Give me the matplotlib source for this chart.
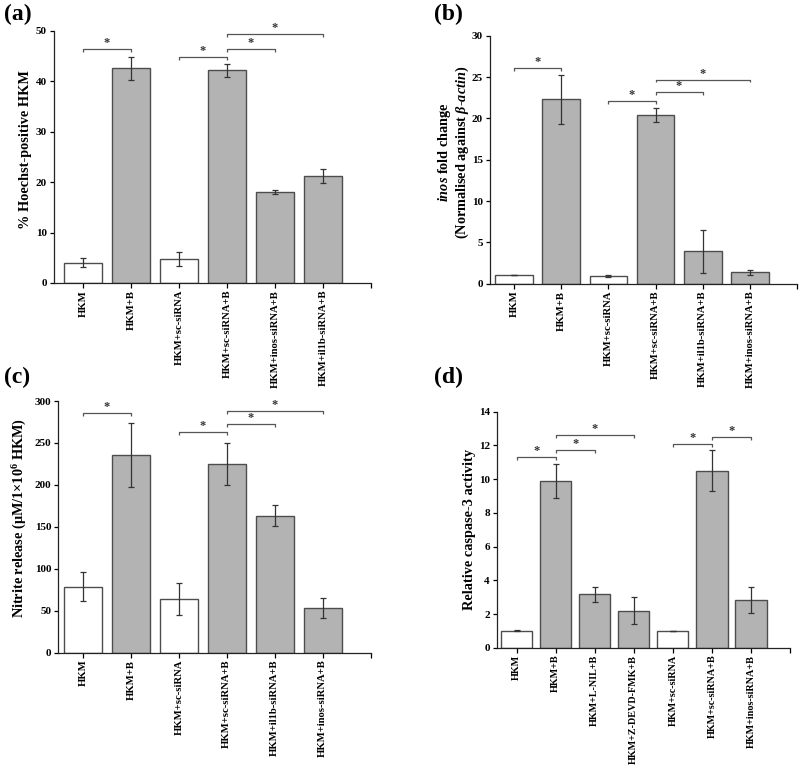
import numpy as np
import matplotlib
matplotlib.use("Agg")
import matplotlib.pyplot as plt

plt.rcParams['font.family'] = ['Liberation Serif', 'DejaVu Serif']
plt.rcParams['font.weight'] = 'bold'
plt.rcParams['mathtext.fontset'] = 'custom'
plt.rcParams['mathtext.rm'] = 'Liberation Serif:bold'
plt.rcParams['mathtext.it'] = 'Liberation Serif:bold:italic'
plt.rcParams['mathtext.bf'] = 'Liberation Serif:bold'

# (a) Hoechst
a_labels = ['HKM', 'HKM+B', 'HKM+sc-siRNA', 'HKM+sc-siRNA+B', 'HKM+inos-siRNA+B', 'HKM+il1b-siRNA+B']
a_values = [4.0, 42.6, 4.8, 42.2, 18.0, 21.2]
a_errors = [0.9, 2.3, 1.4, 1.3, 0.4, 1.4]
a_white = [True, False, True, False, False, False]
a_pairs = [(1, 2), (3, 4), (4, 5), (4, 6)]
a_heights = [46.4, 44.8, 46.5, 49.4]

# (b) inos fold change
b_labels = ['HKM', 'HKM+B', 'HKM+sc-siRNA', 'HKM+sc-siRNA+B', 'HKM+il1b-siRNA+B', 'HKM+inos-siRNA+B']
b_values = [1.0, 22.3, 0.93, 20.4, 3.9, 1.37]
b_errors = [0.0, 2.95, 0.1, 0.8, 2.65, 0.35]
b_white = [True, False, True, False, False, False]
b_pairs = [(1, 2), (3, 4), (4, 5), (4, 6)]
b_heights = [26.1, 22.1, 23.2, 24.7]

# (c) nitrite release
c_labels = ['HKM', 'HKM+B', 'HKM+sc-siRNA', 'HKM+sc-siRNA+B', 'HKM+il1b-siRNA+B', 'HKM+inos-siRNA+B']
c_values = [78.7, 236, 64.4, 225, 163.3, 53.6]
c_errors = [17.5, 38, 19, 25, 12.5, 11.7]
c_white = [True, False, True, False, False, False]
c_pairs = [(1, 2), (3, 4), (4, 5), (4, 6)]
c_heights = [285.3, 262.6, 272.6, 288.5]

# (d) caspase-3
d_labels = ['HKM', 'HKM+B', 'HKM+L-NIL+B', 'HKM+Z-DEVD-FMK+B', 'HKM+sc-siRNA',
            'HKM+sc-siRNA+B', 'HKM+inos-siRNA+B']
d_values = [1.0, 9.87, 3.16, 2.19, 1.0, 10.5, 2.83]
d_errors = [0.03, 1.0, 0.46, 0.8, 0.01, 1.2, 0.77]
d_white = [True, False, False, False, True, False, False]
d_pairs = [(1, 2), (2, 3), (2, 4), (5, 6), (6, 7)]
d_heights = [11.29, 11.73, 12.62, 12.06, 12.52]

GRAY = '#b3b3b3'
EDGE = '#4d4d4d'
LINE = '#555555'


def draw_panel(fig, rect, tag, tag_xy, labels, values, errors, white, pairs, heights,
               ylim, yticks, xleft, ylabel, ylab_x, ylab_y, leg, xfs=7.7):
    ax = fig.add_axes(rect)
    x = np.arange(1, len(values) + 1)
    colors = ['white' if w else GRAY for w in white]
    ax.bar(x, values, width=0.8, color=colors, edgecolor=EDGE, linewidth=1.0, zorder=2)
    ax.errorbar(x, values, yerr=errors, fmt='none', ecolor='#333333', elinewidth=0.9,
                capsize=2.5, capthick=0.9, zorder=3)
    for (i, j), h in zip(pairs, heights):
        ax.plot([i, i, j, j], [h - leg, h, h, h - leg], color=LINE, lw=0.9,
                solid_capstyle='butt', zorder=3)
        ax.text((i + j) / 2, h, '*', ha='center', va='bottom', fontsize=9,
                color='#333333')
    ax.set_xlim(xleft, len(values) + 1)
    ax.set_ylim(*ylim)
    ax.set_yticks(yticks)
    ax.set_xticks(list(x) + [len(values) + 1])
    ax.set_xticklabels(labels + [''], rotation=90, fontsize=xfs, fontweight='bold')
    ax.tick_params(axis='y', direction='out', length=3, width=0.9, labelsize=8, pad=2)
    ax.tick_params(axis='x', direction='out', length=3.5, width=0.9, pad=1.5)
    for s in ['top', 'right']:
        ax.spines[s].set_visible(False)
    for s in ['left', 'bottom']:
        ax.spines[s].set_linewidth(0.9)
        ax.spines[s].set_color('#222222')
    ax.text(ylab_x, ylab_y, ylabel, transform=ax.transAxes, rotation=90,
            ha='center', va='center', fontsize=10.3, fontweight='bold', linespacing=1.0)
    fig.text(tag_xy[0], tag_xy[1], tag, fontsize=17, fontweight='bold', ha='left', va='top')
    return ax


fig = plt.figure(figsize=(8, 7.65), dpi=100)

draw_panel(fig, [0.0675, 0.6301, 0.396, 0.3294], '(a)', (0.005, 0.995),
           a_labels, a_values, a_errors, a_white, a_pairs, a_heights,
           (0, 50), range(0, 51, 10), 0.4, '% Hoechst-positive HKM', -0.09, 0.53, 0.6)

draw_panel(fig, [0.6125, 0.6291, 0.38375, 0.3242], '(b)', (0.543, 0.995),
           b_labels, b_values, b_errors, b_white, b_pairs, b_heights,
           (0, 30), range(0, 31, 5), 0.49,
           '$\\mathit{inos}$ fold change\n(Normalised against $\\mathit{\\beta}$-$\\mathit{actin}$)',
           -0.119, 0.53, 0.35)

draw_panel(fig, [0.0729, 0.1468, 0.3905, 0.329], '(c)', (0.005, 0.52),
           c_labels, c_values, c_errors, c_white, c_pairs, c_heights,
           (0, 300), range(0, 301, 50), 0.49,
           'Nitrite release (\u03bcM/1\u00d710$^{6}$ HKM)', -0.123, 0.533, 3.5)

draw_panel(fig, [0.6209, 0.1533, 0.3666, 0.3085], '(d)', (0.543, 0.52),
           d_labels, d_values, d_errors, d_white, d_pairs, d_heights,
           (0, 14), range(0, 15, 2), 0.49, 'Relative caspase-3 activity', -0.092, 0.503, 0.17,
           xfs=7.3)

fig.savefig('out.png', dpi=100)
